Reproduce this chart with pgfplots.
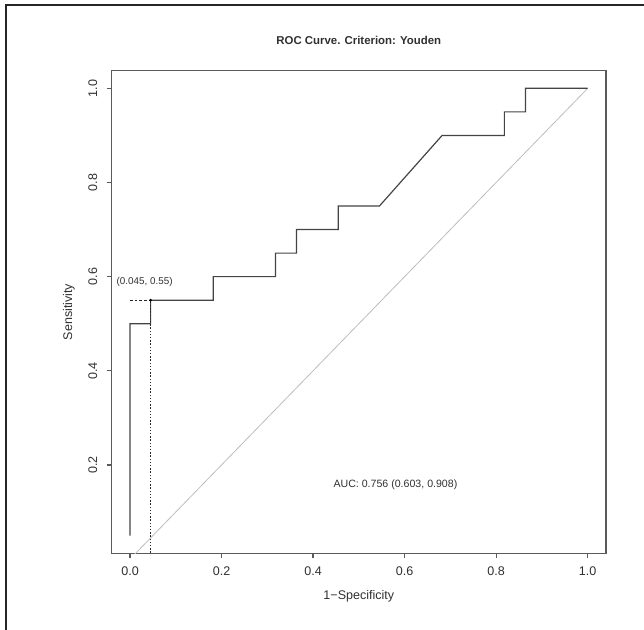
\documentclass[border=0pt]{standalone}
\usepackage{fontspec}
\setmainfont{Liberation Sans}
\usepackage{pgfplots}
\pgfplotsset{compat=1.18}
\definecolor{boxgray}{HTML}{5A5A5A}
\definecolor{curvegray}{HTML}{444444}
\definecolor{diaggray}{HTML}{BDBDBD}
\definecolor{txtgray}{HTML}{303030}

\begin{document}
\begin{tikzpicture}
% page is 644x630 px, 1 px = 0.75pt
\useasboundingbox (0,0) rectangle (483pt,472.5pt);
\draw[line width=1.1pt, black!85] (4.5pt,0pt) -- (4.5pt,468.75pt) -- (483pt,468.75pt);
\node[font=\bfseries\fontsize{8.55}{10}\selectfont, text=txtgray] at (269.1pt,442.5pt) {ROC Curve. Criterion: Youden};

\begin{axis}[
    at={(83.78pt,57.4pt)}, anchor=south west,
    scale only axis,
    width=370.7pt, height=362.25pt,
    xmin=-0.04, xmax=1.04,
    ymin=0.012, ymax=1.038,
    axis line style={boxgray, line width=0.9pt},
    xtick={0,0.2,0.4,0.6,0.8,1},
    ytick={0.2,0.4,0.6,0.8,1},
    /pgf/number format/fixed,
    /pgf/number format/fixed zerofill,
    /pgf/number format/precision=1,
    /pgf/number format/assume math mode=true,
    tick align=outside,
    tick pos=left,
    major tick length=3.75pt,
    tick style={boxgray, line width=0.9pt},
    ticklabel style={font=\fontsize{9.4}{11}\selectfont, text=txtgray, inner sep=0pt},
    yticklabel style={xshift=-6.9pt, rotate=90, anchor=south},
    xticklabel style={anchor=north, yshift=-5.7pt},
    xlabel={1−Specificity},
    ylabel={Sensitivity},
    label style={font=\fontsize{9.4}{11}\selectfont, text=txtgray},
    xlabel style={at={(axis description cs:0.5,-0.088)}, anchor=center},
    ylabel style={at={(axis description cs:-0.0864,0.5)}, anchor=center},
]
% chance line
\addplot[diaggray, line width=0.6pt] coordinates {(0,0)(1,1)};
% empirical ROC curve
\addplot[curvegray, line width=0.9pt] coordinates {
    (0,0.05)(0,0.5)(0.045,0.5)(0.045,0.55)(0.182,0.55)(0.182,0.6)
    (0.318,0.6)(0.318,0.65)(0.364,0.65)(0.364,0.7)(0.455,0.7)(0.455,0.75)
    (0.545,0.75)(0.682,0.9)(0.818,0.9)(0.818,0.95)(0.864,0.95)(0.864,1)(1,1)
};
% optimal cutpoint guides
\addplot[black!85, line width=0.6pt, dash pattern=on 1pt off 1.4pt] coordinates {(0.045,0)(0.045,0.55)};
\addplot[black!85, line width=0.6pt, dash pattern=on 2pt off 1.5pt] coordinates {(0,0.55)(0.045,0.55)};
\addplot[only marks, mark=*, mark size=0.8pt, black] coordinates {(0.045,0.55)};

\node[font=\fontsize{7.4}{9}\selectfont, text=txtgray] at (axis cs:0.032,0.588) {(0.045, 0.55)};
\node[font=\fontsize{7.95}{9}\selectfont, text=txtgray] at (axis cs:0.58,0.158) {AUC: 0.756 (0.603, 0.908)};
\end{axis}
\end{tikzpicture}
\end{document}
